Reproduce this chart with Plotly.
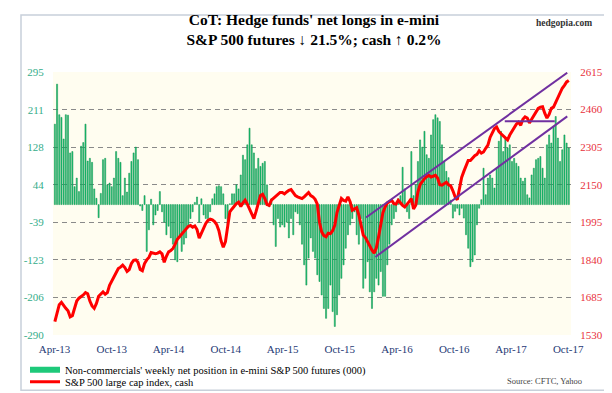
import pandas as pd
import plotly.graph_objects as go

# ---------------- data (weekly, first week 2013-04-02) ----------------
start_week = "2013-04-02"

# Non-commercials' net position in e-mini S&P 500 futures (000 contracts)
net_2013 = [179, 268, 200, 194, 146, 200, 199, 115, 118, 40, 59, 29, 130, 138, 179, 97,
            103, 94, 35, 14, -29, 25, 100, 103, 44, 48, 40, 59, 118, 103, 94, 20, 59, 28,
            70, 96, 115, 128, 100, -3, -13, 20]
net_2014 = [-104, -56, 12, -45, -23, -13, 29, -16, -39, -67, -48, -74, -88, -123, -127,
            -74, -104, -88, -74, -52, -31, -16, 5, 17, -39, 13, -23, -31, -31, -16, 13, 24,
            40, 42, 40, 24, -31, -45, 2, 24, 24, 44, 35, 66, 110, 100, 133, 170, 133, 115,
            80, 103, 85, 92, 96, 44, -5, 13, -45, -93, -31, -50, -45, -50, -39, -74, -31,
            -67, -16, -20]
net_2015 = [-45, -88, -134, -179, -119, -74, -104, -119, -156, -171, -201, -231, -253,
            -231, -179, -238, -271, -245, -201, -164, -134, -97, -67, -45, -31, -16, -67,
            -88, -31, -186, -164, -127, -194, -231, -194, -164, -179, -149, -204, -204,
            -134, -88, -45, -31, -16, 13, 20, 83, 35, -16, -31, 118, 20, 44, 96, 144, 128,
            163, 111, 103, 155, 189, 200, 193, 185, 133, 96, 74, 60]
net_2016 = [10, -30, -15, -8, -23, -8, -30, -67, -97, -138, -127, -112, -45, -8, 11, 81,
            22, 59, 66, 59, 37, 81, 141, 163, 118, 148, 126, 133, 96, 103, 92, 85, 59, 52,
            59, 22, 15, 66, 81, 100, 103, 107, 81, 59, 133, 155, 137, 174, 196, 148, 96,
            122, 155, 137, 126]

# S&P 500 cash index
spx_2013 = [1585, 1625, 1655, 1665, 1650, 1640, 1630, 1605, 1610, 1640, 1670, 1682, 1688,
            1695, 1705, 1700, 1670, 1650, 1640, 1660, 1690, 1700, 1708, 1698, 1705, 1735,
            1752, 1770, 1790, 1804, 1810, 1818, 1808, 1792, 1800, 1825, 1838, 1840, 1830,
            1800, 1795, 1825]
spx_2014 = [1840, 1850, 1870, 1868, 1865, 1868, 1873, 1865, 1830, 1855, 1873, 1878, 1887,
            1905, 1925, 1935, 1945, 1958, 1965, 1978, 1982, 1975, 1980, 1965, 1930, 1950,
            1972, 1990, 2003, 2008, 2005, 1998, 1985, 1960, 1918, 1892, 1915, 1980, 2038,
            2050, 2062, 2072, 2078, 2060, 2075, 2086, 2070, 2050, 2035, 2010, 2040, 2075,
            2105, 2110, 2093, 2068, 2065, 2086, 2095, 2102, 2112, 2118, 2118, 2112, 2120,
            2127, 2130, 2118, 2105, 2100]
spx_2015 = [2095, 2093, 2100, 2110, 2118, 2105, 2100, 2090, 2070, 1995, 1955, 1940, 1935,
            1950, 1948, 1960, 1983, 2035, 2070, 2093, 2085, 2082, 2100, 2080, 2045, 2050,
            2055, 2025, 1985, 1942, 1932, 1915, 1894, 1880, 1868, 1890, 1935, 1995, 2035,
            2058, 2075, 2080, 2086, 2072, 2070, 2086, 2075, 2065, 2058, 2068, 2080, 2093,
            2050, 2065, 2120, 2150, 2165, 2175, 2183, 2189, 2182, 2186, 2189, 2178, 2150,
            2148, 2155, 2160, 2150]
spx_2016 = [2145, 2125, 2100, 2088, 2130, 2180, 2205, 2230, 2250, 2250, 2262, 2270, 2275,
            2290, 2280, 2285, 2300, 2313, 2345, 2365, 2382, 2388, 2370, 2360, 2352, 2340,
            2335, 2355, 2370, 2390, 2400, 2408, 2395, 2420, 2430, 2425, 2405, 2420, 2435,
            2455, 2465, 2470, 2472, 2445, 2425, 2440, 2465, 2470, 2490, 2510, 2526, 2548,
            2560, 2574, 2580]

net_long = net_2013 + net_2014 + net_2015 + net_2016
spx = spx_2013 + spx_2014 + spx_2015 + spx_2016
weeks = pd.date_range(start_week, periods=len(net_long), freq="7D")

# trend-channel annotations (right-axis units)
upper_dates = ["2015-12-24", "2017-09-28"]
upper_vals = [2015, 2612]
lower_dates = ["2016-01-23", "2017-09-28"]
lower_vals = [1852, 2432]
support_dates = ["2017-03-12", "2017-08-19"]
support_vals = [2412, 2412]

left_ticks = [-290, -206, -123, -39, 44, 128, 211, 295]
right_ticks = [1530, 1685, 1840, 1995, 2150, 2305, 2460, 2615]
x_tick_dates = ["2013-04-01", "2013-10-01", "2014-04-01", "2014-10-01", "2015-04-01",
                "2015-10-01", "2016-04-01", "2016-10-01", "2017-04-01", "2017-10-01"]
x_tick_labels = ["Apr-13", "Oct-13", "Apr-14", "Oct-14", "Apr-15", "Oct-15", "Apr-16",
                 "Oct-16", "Apr-17", "Oct-17"]

bar_name = "Non-commercials' weekly net position in e-mini S&P 500 futures (000)"
line_name = "S&P 500 large cap index, cash"

SERIF = "Liberation Serif, Times New Roman, serif"
GREEN = "#1ec97a"
PURPLE = "#7030A0"

fig = go.Figure()
fig.add_trace(go.Bar(
    x=weeks, y=net_long, name=bar_name, legendgroup="bars", showlegend=False,
    marker=dict(color=GREEN, line=dict(color="#0b8a47", width=0.5)),
    yaxis="y"))
# legend swatch for the bars (wide green block as in the original)
fig.add_trace(go.Scatter(
    x=[None], y=[None], mode="lines", name=bar_name, legendgroup="bars",
    line=dict(color=GREEN, width=6), legend="legend", yaxis="y"))
fig.add_trace(go.Scatter(
    x=weeks, y=spx, mode="lines", name=line_name,
    line=dict(color="#ff0000", width=3), yaxis="y2", legend="legend2"))
for dx, dy in [(upper_dates, upper_vals), (lower_dates, lower_vals),
               (support_dates, support_vals)]:
    fig.add_trace(go.Scatter(x=dx, y=dy, mode="lines", showlegend=False,
                             line=dict(color=PURPLE, width=2), yaxis="y2",
                             hoverinfo="skip"))

H = 262.7  # plot height px
def py(pix):
    return (326.7 - pix) / H
def px(pix):
    return (pix - 45) / 518.0

fig.update_layout(
    width=612, height=393,
    margin=dict(l=45, r=49, t=64, b=66, autoexpand=False),
    paper_bgcolor="white", plot_bgcolor="#fffdf0",
    bargap=0.5,
    font=dict(family=SERIF, color="black"),
    title=dict(text="<b>CoT: Hedge funds' net longs in e-mini<br>"
                    "S&P 500 futures \u2193 21.5%; cash \u2191 0.2%</b>",
               x=0.5, xanchor="center", y=1 - 17 / 393, yanchor="top",
               font=dict(family=SERIF, size=15.5, color="black")),
    xaxis=dict(type="date", range=["2013-03-27", "2017-10-10"],
               tickvals=x_tick_dates, ticktext=x_tick_labels,
               tickfont=dict(family=SERIF, size=11, color="#1f3a75"),
               showgrid=False, zeroline=False, showline=False,
               ticks="outside", ticklen=4, tickcolor="rgba(0,0,0,0)"),
    yaxis=dict(range=[-290, 295], tickvals=left_ticks,
               ticktext=[str(v) for v in left_ticks],
               tickfont=dict(family=SERIF, size=11, color="#34ad8a"),
               showgrid=True, gridcolor="#8a8a8a", gridwidth=1, griddash="5px,4px",
               zeroline=False, showline=False,
               ticks="outside", ticklen=6, tickcolor="rgba(0,0,0,0)"),
    yaxis2=dict(range=[1530, 2615], tickvals=right_ticks,
                ticktext=[str(v) for v in right_ticks],
                overlaying="y", side="right",
                tickfont=dict(family=SERIF, size=11, color="#e8303c"),
                showgrid=False, zeroline=False, showline=False,
                ticks="outside", ticklen=6, tickcolor="rgba(0,0,0,0)"),
    legend=dict(x=px(17), y=py(361.5), xanchor="left", yanchor="middle",
                bgcolor="rgba(0,0,0,0)", itemwidth=30,
                font=dict(family=SERIF, size=10.5, color="black")),
    legend2=dict(x=px(17), y=py(373.5), xanchor="left", yanchor="middle",
                 bgcolor="rgba(0,0,0,0)", itemwidth=30,
                 font=dict(family=SERIF, size=10.5, color="black")),
    shapes=[dict(type="rect", xref="paper", yref="paper",
                 x0=px(13), x1=px(598), y0=py(382), y1=py(7),
                 line=dict(color="#c8d0da", width=1.5), layer="below")],
    annotations=[
        dict(text="<b>hedgopia.com</b>", xref="paper", yref="paper",
             x=px(556), y=py(15), xanchor="center", yanchor="middle", showarrow=False,
             font=dict(family=SERIF, size=9.5, color="#333333")),
        dict(text="Source: CFTC, Yahoo", xref="paper", yref="paper",
             x=px(536), y=py(373), xanchor="center", yanchor="middle", showarrow=False,
             font=dict(family=SERIF, size=8.5, color="#444444")),
    ],
)

fig.write_html("out.html")
